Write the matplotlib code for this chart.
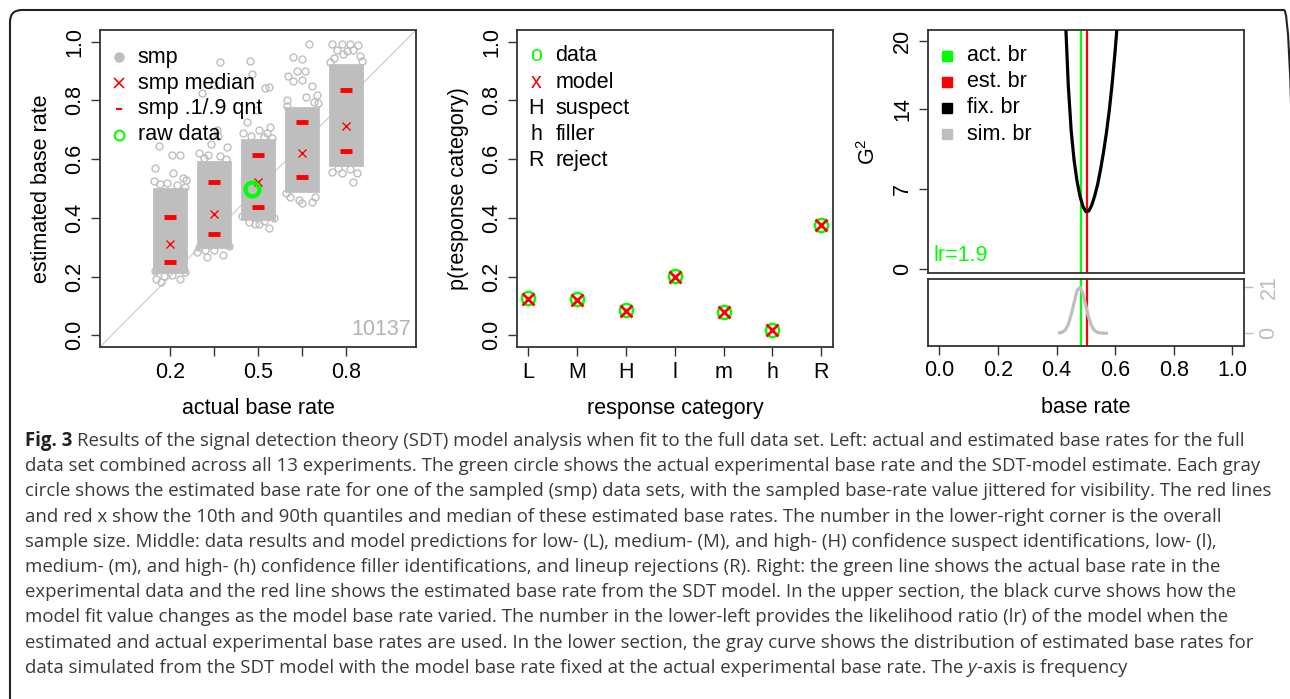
import matplotlib
matplotlib.use("Agg")
import matplotlib.pyplot as plt
from matplotlib.patches import FancyBboxPatch
from matplotlib.transforms import IdentityTransform

plt.rcParams['font.family'] = ['Liberation Sans', 'DejaVu Sans']
plt.rcParams['mathtext.fontset'] = 'custom'
plt.rcParams['mathtext.rm'] = 'Liberation Sans'

W, H = 1290, 699

# ---- left panel: sampled base rates
base_rates = [0.2, 0.35, 0.5, 0.65, 0.8]
core_lo = [0.215, 0.30, 0.395, 0.49, 0.58]
core_hi = [0.50, 0.59, 0.665, 0.775, 0.92]
smp_median = [0.311, 0.413, 0.523, 0.622, 0.714]
smp_q10 = [0.249, 0.344, 0.438, 0.539, 0.629]
smp_q90 = [0.404, 0.522, 0.615, 0.727, 0.836]
# scattered samples outside / on the edge of the dense core (x jittered, y)
out_x = [0.149, 0.160, 0.205, 0.232, 0.211, 0.243, 0.152, 0.234, 0.170, 0.145, 0.255,
         0.165, 0.190, 0.222, 0.250, 0.180, 0.205, 0.148, 0.250,
         0.371, 0.308, 0.348, 0.360, 0.364, 0.325, 0.382, 0.300, 0.395, 0.340, 0.292,
         0.315, 0.330, 0.370, 0.392, 0.300, 0.350, 0.400, 0.318,
         0.471, 0.479, 0.525, 0.536, 0.496, 0.462, 0.530, 0.505, 0.540, 0.536, 0.505, 0.450,
         0.475, 0.520, 0.548, 0.445, 0.470, 0.520, 0.555, 0.490,
         0.676, 0.621, 0.649, 0.604, 0.632, 0.660, 0.621, 0.649, 0.684, 0.701, 0.598, 0.596,
         0.649, 0.684, 0.695, 0.610, 0.640, 0.600, 0.690, 0.705, 0.665,
         0.752, 0.786, 0.813, 0.843, 0.769, 0.803, 0.826, 0.790, 0.752, 0.786, 0.826, 0.838,
         0.760, 0.850, 0.745, 0.855, 0.775, 0.815]
out_y = [0.569, 0.645, 0.614, 0.614, 0.554, 0.537, 0.193, 0.190, 0.182, 0.525, 0.530,
         0.515, 0.520, 0.512, 0.505, 0.203, 0.205, 0.220, 0.215,
         0.930, 0.825, 0.853, 0.700, 0.680, 0.267, 0.273, 0.620, 0.640, 0.650, 0.285,
         0.605, 0.615, 0.610, 0.600, 0.300, 0.290, 0.305, 0.290,
         0.935, 0.891, 0.842, 0.845, 0.768, 0.728, 0.688, 0.700, 0.710, 0.364, 0.380, 0.690,
         0.680, 0.675, 0.672, 0.405, 0.385, 0.390, 0.400, 0.378,
         0.992, 0.948, 0.941, 0.884, 0.902, 0.902, 0.865, 0.870, 0.850, 0.819, 0.780, 0.486,
         0.449, 0.455, 0.472, 0.472, 0.460, 0.800, 0.795, 0.790, 0.812,
         0.992, 0.992, 0.992, 0.990, 0.973, 0.967, 0.973, 0.958, 0.557, 0.552, 0.523, 0.552,
         0.945, 0.950, 0.930, 0.935, 0.570, 0.565]
raw_x, raw_y = 0.481, 0.50
n_total = "10137"

# ---- middle panel: response categories
categories = ['L', 'M', 'H', 'l', 'm', 'h', 'R']
p_data = [0.127, 0.122, 0.085, 0.201, 0.080, 0.018, 0.377]
p_model = [0.125, 0.120, 0.083, 0.199, 0.079, 0.017, 0.376]

# ---- right panel: G^2 over fixed base rates, simulated distribution
act_br, est_br = 0.482, 0.504
fix_br = [0.42, 0.43, 0.44, 0.45, 0.46, 0.47, 0.48, 0.49, 0.50, 0.51, 0.52,
          0.53, 0.54, 0.55, 0.56, 0.57, 0.58, 0.59, 0.60, 0.61, 0.62]
g2 = [30.0, 22.1, 16.1, 12.1, 9.5, 7.7, 6.4, 5.5, 5.05, 5.1, 5.6,
      6.4, 7.4, 8.7, 10.2, 11.9, 13.9, 16.3, 19.1, 22.3, 26.0]
sim_br = [0.41, 0.42, 0.43, 0.44, 0.45, 0.46, 0.47, 0.48, 0.49, 0.50, 0.51,
          0.52, 0.53, 0.54, 0.55, 0.56, 0.57]
sim_freq = [0.2, 0.5, 1.5, 4.0, 8.5, 14.0, 19.5, 21.0, 18.0, 12.5, 7.0,
            3.2, 1.2, 0.4, 0.1, 0.0, 0.0]
lr_text = "lr=1.9"

caption = [
    "Results of the signal detection theory (SDT) model analysis when fit to the full data set. Left: actual and estimated base rates for the full",
    "data set combined across all 13 experiments. The green circle shows the actual experimental base rate and the SDT-model estimate. Each gray",
    "circle shows the estimated base rate for one of the sampled (smp) data sets, with the sampled base-rate value jittered for visibility. The red lines",
    "and red x show the 10th and 90th quantiles and median of these estimated base rates. The number in the lower-right corner is the overall",
    "sample size. Middle: data results and model predictions for low- (L), medium- (M), and high- (H) confidence suspect identifications, low- (l),",
    "medium- (m), and high- (h) confidence filler identifications, and lineup rejections (R). Right: the green line shows the actual base rate in the",
    "experimental data and the red line shows the estimated base rate from the SDT model. In the upper section, the black curve shows how the",
    "model fit value changes as the model base rate varied. The number in the lower-left provides the likelihood ratio (lr) of the model when the",
    "estimated and actual experimental base rates are used. In the lower section, the gray curve shows the distribution of estimated base rates for",
    "data simulated from the SDT model with the model base rate fixed at the actual experimental base rate. The",
]

GRAY = '#bebebe'
GREEN = '#00ff00'
RED = '#ff0000'
FS = 15.5

fig = plt.figure(figsize=(W / 100, H / 100), dpi=100)


def box_axes(ax):
    for s in ax.spines.values():
        s.set_color('#333333')
        s.set_linewidth(1.3)
    ax.tick_params(length=6.5, width=1, labelsize=FS, pad=4, color='#333333')


def rotate_y(ax):
    for lab in ax.get_yticklabels():
        lab.set_rotation(90)
        lab.set_va('center')


# left
ax1 = fig.add_axes([100 / W, 1 - 347 / H, 316 / W, 317 / H])
ax1.set_xlim(-0.04, 1.04)
ax1.set_ylim(-0.04, 1.04)
ax1.axline((0, 0), (1, 1), color='#d3d3d3', lw=1, zorder=1)
ax1.bar(base_rates, [h - l for h, l in zip(core_hi, core_lo)], bottom=core_lo,
        width=0.11, color=GRAY, edgecolor=GRAY, lw=2, zorder=2)
ax1.plot(out_x, out_y, 'o', mfc='none', mec=GRAY, ms=5, mew=1, zorder=2)
ax1.plot(base_rates, smp_median, 'x', color=RED, ms=6, mew=1, zorder=4)
ax1.plot(base_rates, smp_q10, '_', color=RED, ms=9, mew=3.5, zorder=4)
ax1.plot(base_rates, smp_q90, '_', color=RED, ms=9, mew=3.5, zorder=4)
ax1.plot([raw_x], [raw_y], 'o', mfc='none', mec=GREEN, ms=10, mew=3, zorder=5)
ax1.text(0.986, 0.054, n_total, transform=ax1.transAxes, ha='right', va='center',
         fontsize=FS, color='#b3b3b3')
ax1.set_xticks(base_rates)
ax1.set_xticklabels(['0.2', '', '0.5', '', '0.8'])
ax1.set_yticks([0, 0.2, 0.4, 0.6, 0.8, 1.0])
ax1.set_yticklabels(['0.0', '0.2', '0.4', '0.6', '0.8', '1.0'])
box_axes(ax1)
rotate_y(ax1)
ax1.set_xlabel('actual base rate', fontsize=FS, labelpad=11)
ax1.set_ylabel('estimated base rate', fontsize=FS, labelpad=9)
leg_y = [0.914, 0.832, 0.751, 0.669]
ax1.plot(0.060, leg_y[0], 'o', color=GRAY, ms=6.5, transform=ax1.transAxes)
ax1.plot(0.060, leg_y[1], 'x', color=RED, ms=7, mew=1.2, transform=ax1.transAxes)
ax1.plot(0.060, leg_y[2], '_', color=RED, ms=4, mew=1.5, transform=ax1.transAxes)
ax1.plot(0.060, leg_y[3], 'o', mfc='none', mec=GREEN, ms=7, mew=1.5, transform=ax1.transAxes)
for yy, lab in zip(leg_y, ['smp', 'smp median', 'smp .1/.9 qnt', 'raw data']):
    ax1.text(0.120, yy, lab, transform=ax1.transAxes, va='center', fontsize=FS)

# middle
ax2 = fig.add_axes([516.7 / W, 1 - 347 / H, 316.3 / W, 317 / H])
xs = list(range(1, len(categories) + 1))
ax2.set_xlim(0.76, 7.24)
ax2.set_ylim(-0.04, 1.04)
ax2.plot(xs, p_data, 'o', mfc='none', mec=GREEN, ms=9.5, mew=1.8)
ax2.plot(xs, p_model, 'x', color=RED, ms=8, mew=2)
ax2.set_xticks(xs)
ax2.set_xticklabels(categories)
ax2.set_yticks([0, 0.2, 0.4, 0.6, 0.8, 1.0])
ax2.set_yticklabels(['0.0', '0.2', '0.4', '0.6', '0.8', '1.0'])
box_axes(ax2)
rotate_y(ax2)
ax2.set_xlabel('response category', fontsize=FS, labelpad=11)
ax2.set_ylabel('p(response category)', fontsize=FS, labelpad=9)
leg2_y = [0.919, 0.835, 0.753, 0.671, 0.588]
leg2_sym = [('o', GREEN), ('x', RED), ('H', 'black'), ('h', 'black'), ('R', 'black')]
leg2_lab = ['data', 'model', 'suspect', 'filler', 'reject']
for yy, (sym, col), lab in zip(leg2_y, leg2_sym, leg2_lab):
    ax2.text(0.061, yy, sym, color=col, transform=ax2.transAxes, ha='center', va='center', fontsize=FS)
    ax2.text(0.123, yy, lab, transform=ax2.transAxes, va='center', fontsize=FS)

# right, upper
ax3 = fig.add_axes([927.7 / W, 1 - 272.7 / H, 316.3 / W, 242.7 / H])
ax3.set_xlim(-0.04, 1.04)
ax3.set_ylim(-0.3, 20.94)
ax3.plot(fix_br, g2, color='black', lw=2.3, zorder=3)
ax3.axvline(act_br, color=GREEN, lw=1.6, zorder=2)
ax3.axvline(est_br, color=RED, lw=1.6, zorder=2)
ax3.set_xticks([])
ax3.set_yticks([0, 7, 14, 20])
box_axes(ax3)
rotate_y(ax3)
ax3.set_ylabel('G$^2$', fontsize=FS, labelpad=9)
ax3.text(0.017, 0.069, lr_text, color=GREEN, transform=ax3.transAxes, va='center', fontsize=FS)
leg3_y = [0.893, 0.787, 0.680, 0.571]
for yy, col, lab in zip(leg3_y, [GREEN, RED, 'black', GRAY],
                        ['act. br', 'est. br', 'fix. br', 'sim. br']):
    ax3.plot(0.060, yy, 's', color=col, ms=7, transform=ax3.transAxes)
    ax3.text(0.123, yy, lab, transform=ax3.transAxes, va='center', fontsize=FS)

# right, lower
ax4 = fig.add_axes([927.7 / W, 1 - 345.7 / H, 316.3 / W, 67 / H])
ax4.set_xlim(-0.04, 1.04)
ax4.set_ylim(-5.7, 24.9)
ax4.plot(sim_br, sim_freq, color=GRAY, lw=2.3, zorder=3)
ax4.axvline(act_br, color=GREEN, lw=1.6, zorder=2)
ax4.axvline(est_br, color=RED, lw=1.6, zorder=2)
ax4.set_xticks([0, 0.2, 0.4, 0.6, 0.8, 1.0])
ax4.set_xticklabels(['0.0', '0.2', '0.4', '0.6', '0.8', '1.0'])
ax4.yaxis.tick_right()
ax4.set_yticks([0, 21])
box_axes(ax4)
ax4.tick_params(axis='y', colors=GRAY, labelcolor=GRAY)
for lab in ax4.get_yticklabels():
    lab.set_rotation(90)
    lab.set_va('center')
ax4.set_xlabel('base rate', fontsize=FS, labelpad=11)

# outer rounded frame (right and bottom edges fall just outside the picture)
frame = FancyBboxPatch((10, -30), 1286, 719, boxstyle='round,pad=0,rounding_size=12',
                       transform=IdentityTransform(), fill=False, ec='#222222', lw=1.5)
fig.add_artist(frame)

# caption, line by line
CAP_FONT = ['Open Sans', 'DejaVu Sans']
CAP_COL = '#3a3a3a'
renderer = fig.canvas.get_renderer()


def width_of(s, size, **kw):
    t = fig.text(0, 0, s, fontsize=size, family=CAP_FONT, **kw)
    w = t.get_window_extent(renderer).width
    t.remove()
    return w


size = 12.0
size = size * 1200 / width_of(caption[7], size)
space = width_of('a a', size) - width_of('aa', size)

y0, dy = 441, 25.2


def put_segments(i, segments):
    x = 25
    y = 1 - (y0 + i * dy) / H
    for s, weight, style, col in segments:
        t = fig.text(x / W, y, s, fontsize=size, fontweight=weight, fontstyle=style,
                     family=CAP_FONT, color=col, ha='left', va='center')
        x += t.get_window_extent(renderer).width + (space if s.endswith(('3', 'The')) else 0)


put_segments(0, [('Fig. 3', 'bold', 'normal', '#231f20'),
                 (caption[0], 'normal', 'normal', CAP_COL)])
for i in range(1, 9):
    put_segments(i, [(caption[i], 'normal', 'normal', CAP_COL)])
put_segments(9, [(caption[9], 'normal', 'normal', CAP_COL),
                 ('y', 'normal', 'italic', CAP_COL),
                 ('-axis is frequency', 'normal', 'normal', CAP_COL)])

fig.savefig('out.png', dpi=100)
